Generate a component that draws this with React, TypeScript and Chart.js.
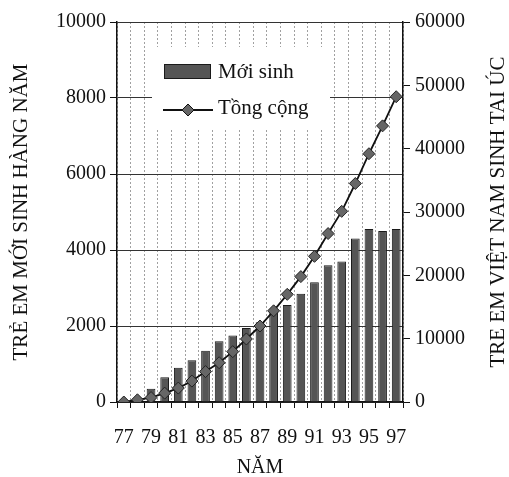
import React, { useEffect, useRef } from 'react';
import { Chart, registerables } from 'chart.js';

Chart.register(...registerables);

const years = ['77', '78', '79', '80', '81', '82', '83', '84', '85', '86', '87', '88', '89', '90', '91', '92', '93', '94', '95', '96', '97'];
const newBirths = [0, 100, 350, 650, 900, 1100, 1350, 1600, 1750, 1950, 2100, 2400, 2550, 2850, 3150, 3600, 3700, 4300, 4550, 4500, 4550];
const cumulative = [0, 350, 700, 1400, 2200, 3300, 4800, 6200, 7950, 9950, 12000, 14400, 17000, 19800, 23000, 26600, 30100, 34500, 39200, 43600, 48200];
const leftTitle = 'TRẺ EM MỚI SINH HÀNG NĂM';
const rightTitle = 'TRE EM VIỆT NAM SINH TAI ÚC';
const xTitle = 'NĂM';
const seriesNames = ['Mới sinh', 'Tồng cộng'];

const FONT = "'Liberation Serif', 'Times New Roman', serif";
const BAR_FILL = '#555555';
const BAR_EDGE = '#1a1a1a';

const overlayPlugin = {
  id: 'overlay',
  afterDraw(chart: any) {
    const ctx = chart.ctx;
    const area = chart.chartArea;
    ctx.save();
    const lx = area.left + 35;
    const ly = area.top + 25;
    ctx.fillStyle = '#ffffff';
    ctx.fillRect(lx, ly, 178, 81);
    ctx.fillStyle = BAR_FILL;
    ctx.strokeStyle = BAR_EDGE;
    ctx.lineWidth = 1;
    ctx.fillRect(lx + 12, ly + 17, 47, 15);
    ctx.strokeRect(lx + 12.5, ly + 17.5, 46, 14);
    ctx.fillStyle = '#111';
    ctx.font = `21px ${FONT}`;
    ctx.textBaseline = 'middle';
    ctx.textAlign = 'left';
    ctx.fillText(seriesNames[0], lx + 66, ly + 25);
    const yl = ly + 63;
    ctx.strokeStyle = '#111';
    ctx.lineWidth = 1.8;
    ctx.beginPath();
    ctx.moveTo(lx + 11, yl);
    ctx.lineTo(lx + 61, yl);
    ctx.stroke();
    ctx.fillStyle = '#666';
    ctx.beginPath();
    ctx.moveTo(lx + 36, yl - 6);
    ctx.lineTo(lx + 42, yl);
    ctx.lineTo(lx + 36, yl + 6);
    ctx.lineTo(lx + 30, yl);
    ctx.closePath();
    ctx.fill();
    ctx.lineWidth = 1;
    ctx.stroke();
    ctx.fillStyle = '#111';
    ctx.fillText(seriesNames[1], lx + 66, yl - 2);
    ctx.translate(498, (area.top + area.bottom) / 2);
    ctx.rotate(-Math.PI / 2);
    ctx.textAlign = 'center';
    ctx.font = `21px ${FONT}`;
    ctx.fillText(rightTitle, 0, 0);
    ctx.restore();
  },
};

export default function App() {
  const ref = useRef<HTMLCanvasElement | null>(null);
  useEffect(() => {
    if (!ref.current) return;
    const chart = new Chart(ref.current, {
      type: 'bar',
      data: {
        labels: years,
        datasets: [
          {
            type: 'line',
            label: seriesNames[1],
            data: cumulative,
            yAxisID: 'y1',
            borderColor: '#111',
            borderWidth: 1.8,
            pointStyle: 'rectRot',
            pointRadius: 6,
            pointBackgroundColor: '#666',
            pointBorderColor: '#222',
            pointBorderWidth: 1,
            tension: 0,
            order: 0,
          } as any,
          {
            type: 'bar',
            label: seriesNames[0],
            data: newBirths,
            yAxisID: 'y',
            backgroundColor: BAR_FILL,
            borderColor: BAR_EDGE,
            borderWidth: 1,
            categoryPercentage: 1,
            barPercentage: 0.64,
            order: 1,
          },
        ],
      },
      options: {
        animation: false,
        responsive: false,
        maintainAspectRatio: false,
        layout: { padding: { top: 22, left: 0, right: 0, bottom: 0 } },
        plugins: {
          legend: { display: false },
          tooltip: { enabled: false },
        },
        scales: {
          x: {
            grid: {
              display: true,
              offset: true,
              color: '#a0a0a0',
              lineWidth: 1,
              drawTicks: true,
              tickLength: 6,
              tickColor: '#111',
              tickBorderDash: [],
            },
            border: { display: true, color: '#111', width: 1.5, dash: [2, 2] },
            ticks: {
              autoSkip: false,
              maxRotation: 0,
              minRotation: 0,
              padding: 18,
              color: '#111',
              font: { family: FONT, size: 20 },
              callback: (_v: any, i: number) => (i % 2 === 0 ? years[i] : ''),
            },
            title: {
              display: true,
              text: xTitle,
              color: '#111',
              font: { family: FONT, size: 20 },
              padding: { top: 0, bottom: -3 },
            },
            afterFit: (s: any) => {
              s.height = 75;
            },
          },
          y: {
            position: 'left',
            min: 0,
            max: 10000,
            ticks: {
              stepSize: 2000,
              color: '#111',
              padding: 4,
              font: { family: FONT, size: 20 },
              callback: (v: any) => String(v),
            },
            grid: {
              color: '#333',
              lineWidth: 1,
              tickLength: 7,
              tickColor: '#111',
            },
            border: { display: true, color: '#111', width: 1.5 },
            title: {
              display: true,
              text: leftTitle,
              color: '#111',
              font: { family: FONT, size: 21 },
              padding: { top: 9, bottom: 0 },
            },
            afterFit: (s: any) => {
              s.width = 117;
            },
          },
          y1: {
            position: 'right',
            min: 0,
            max: 60000,
            ticks: {
              stepSize: 10000,
              color: '#111',
              padding: 5,
              font: { family: FONT, size: 20 },
              callback: (v: any) => String(v),
            },
            grid: {
              drawOnChartArea: false,
              tickLength: 7,
              tickColor: '#111',
            },
            border: { display: true, color: '#111', width: 1.5 },
            afterFit: (s: any) => {
              s.width = 106;
            },
          },
        },
      },
      plugins: [overlayPlugin],
    });
    return () => chart.destroy();
  }, []);
  return (
    <div style={{ position: 'fixed', left: 0, top: 0, width: 509, height: 477, background: '#fff' }}>
      <canvas ref={ref} width={509} height={477} style={{ width: 509, height: 477, display: 'block' }} />
    </div>
  );
}
